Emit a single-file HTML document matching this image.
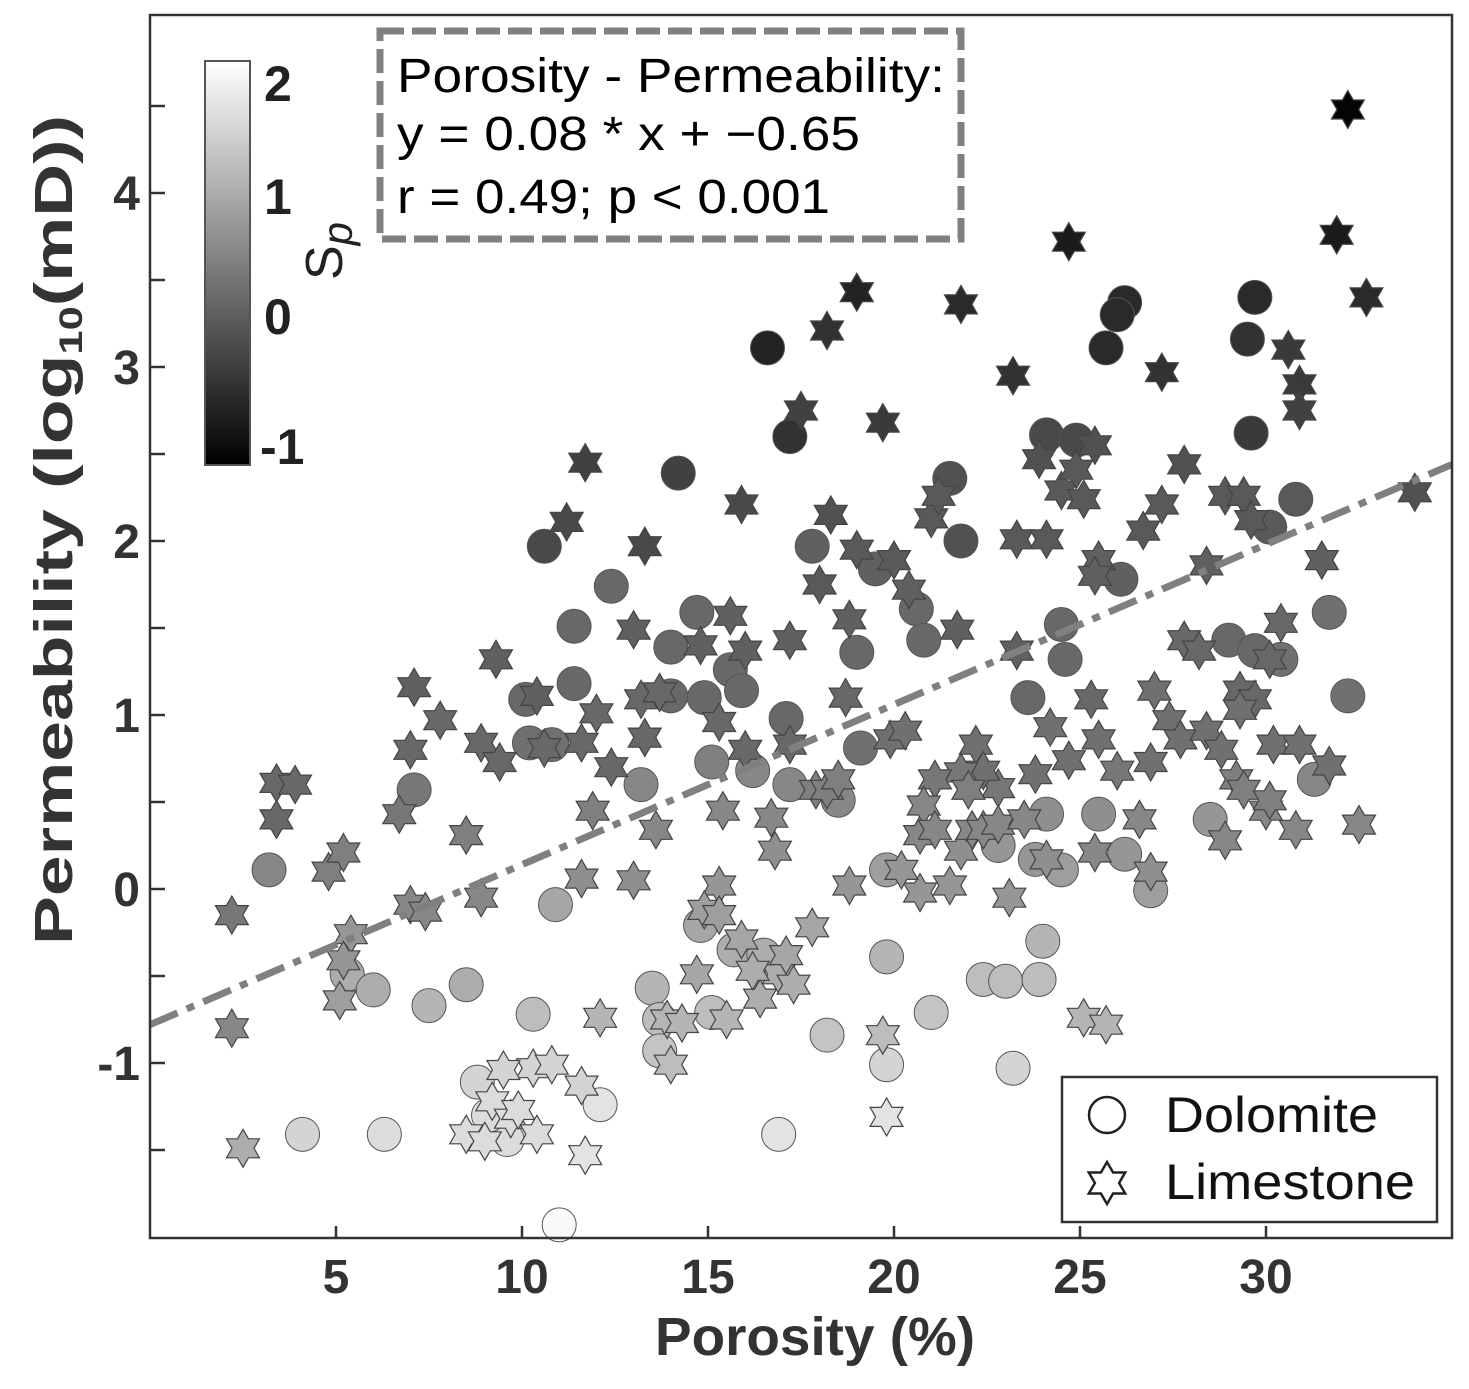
<!DOCTYPE html>
<html><head><meta charset="utf-8"><style>
body{margin:0;background:#fff;}
svg text{font-family:"Liberation Sans",Arial,sans-serif;}
</style></head><body>
<svg id="chart" width="1469" height="1384" viewBox="0 0 1469 1384" xmlns="http://www.w3.org/2000/svg">
<defs>
<linearGradient id="cbg" x1="0" y1="1" x2="0" y2="0">
<stop offset="0" stop-color="#000"/><stop offset="1" stop-color="#fff"/>
</linearGradient>
</defs>
<rect x="150" y="15" width="1302" height="1223" fill="#fff"/>
<g id="marks"></g>
<line id="fitline" stroke="#808080" stroke-width="7" stroke-dasharray="30,10,8,10" fill="none"/>
<rect x="150" y="15" width="1302" height="1223" fill="none" stroke="#333" stroke-width="2.5"/>
<g id="axes"></g>
<text x="815" y="1355" text-anchor="middle" font-size="54" font-weight="bold" fill="#333" textLength="320" lengthAdjust="spacingAndGlyphs">Porosity (%)</text>
<text transform="translate(72,530) rotate(-90)" text-anchor="middle" font-size="54" font-weight="bold" fill="#333" textLength="830" lengthAdjust="spacingAndGlyphs">Permeability (log<tspan font-size="32" dy="10">10</tspan><tspan dy="-10">(mD))</tspan></text>
<g>
<rect x="205" y="61" width="45" height="404" fill="url(#cbg)" stroke="#555" stroke-width="2"/>
<text x="264" y="101" font-size="50" font-weight="bold" fill="#222">2</text>
<text x="264" y="214" font-size="50" font-weight="bold" fill="#222">1</text>
<text x="264" y="334" font-size="50" font-weight="bold" fill="#222">0</text>
<text x="260" y="464" font-size="50" font-weight="bold" fill="#222">-1</text>
<text transform="translate(342,280) rotate(-90)" font-size="52" fill="#222">S<tspan font-style="italic" font-size="42" dy="10">p</tspan></text>
</g>
<g>
<rect x="380" y="31" width="581" height="208" fill="#fff" stroke="#808080" stroke-width="7" stroke-dasharray="24,8"/>
<text x="397" y="92" font-size="48" fill="#000" textLength="548" lengthAdjust="spacingAndGlyphs">Porosity - Permeability:</text>
<text x="397" y="150" font-size="48" fill="#000" textLength="463" lengthAdjust="spacingAndGlyphs">y = 0.08 * x + −0.65</text>
<text x="397" y="213" font-size="48" fill="#000" textLength="433" lengthAdjust="spacingAndGlyphs">r = 0.49; p &lt; 0.001</text>
</g>
<g>
<rect x="1062" y="1077" width="375" height="145" fill="#fff" stroke="#333" stroke-width="2.5"/>
<circle cx="1107" cy="1115" r="18" fill="#fff" stroke="#222" stroke-width="2.5"/>
<text x="1165" y="1132" font-size="50" fill="#111" textLength="213" lengthAdjust="spacingAndGlyphs">Dolomite</text>
<polygon id="legstar" fill="#fff" stroke="#222" stroke-width="2.5"/>
<text x="1165" y="1199" font-size="50" fill="#111" textLength="250" lengthAdjust="spacingAndGlyphs">Limestone</text>
</g>
</svg>
<script>
// Dolomite: porosity, log perm, Sp
const dolX=[16.6,26.2,26.0,25.7,29.7,29.5,29.6,17.2,14.2,10.6,24.1,24.9,21.5,21.8,30.8,30.1,
12.4,11.4,11.4,14.0,14.0,14.7,14.9,15.6,15.9,17.1,17.8,19.0,19.1,20.6,20.8,19.5,24.5,24.6,23.6,30.4,31.7,32.2,29.0,29.7,26.1,10.1,10.2,10.8,
3.2,7.1,13.2,15.1,16.2,17.2,18.5,19.8,22.8,23.8,24.1,24.5,25.5,26.2,26.9,28.5,31.3,10.9,
5.3,6.0,7.5,8.5,10.3,13.5,13.7,14.8,15.1,15.7,16.5,19.8,21.0,22.4,23.0,23.9,24.0,18.2,19.8,23.2,13.7,
4.1,6.3,8.8,9.6,9.1,12.1,16.9,11.0];
const dolY=[3.11,3.37,3.30,3.11,3.40,3.16,2.62,2.60,2.39,1.97,2.61,2.58,2.36,2.00,2.24,2.08,
1.74,1.51,1.18,1.39,1.11,1.59,1.10,1.26,1.14,0.98,1.97,1.36,0.81,1.61,1.43,1.84,1.52,1.32,1.10,1.32,1.59,1.11,1.43,1.37,1.78,1.09,0.84,0.83,
0.11,0.57,0.60,0.73,0.68,0.60,0.51,0.11,0.25,0.17,0.43,0.11,0.43,0.20,-0.01,0.40,0.63,-0.09,
-0.49,-0.58,-0.67,-0.55,-0.72,-0.57,-0.75,-0.21,-0.71,-0.35,-0.38,-0.39,-0.71,-0.52,-0.53,-0.52,-0.30,-0.84,-1.01,-1.03,-0.93,
-1.41,-1.41,-1.11,-1.44,-1.30,-1.24,-1.41,-1.93];
const dolSp=[-0.7,-0.6,-0.6,-0.6,-0.6,-0.5,-0.4,-0.5,-0.3,-0.2,-0.2,-0.2,-0.1,-0.1,0,0,
0.2,0.2,0.2,0.2,0.2,0.2,0.2,0.2,0.2,0.2,0.1,0.2,0.3,0.2,0.2,0.1,0.2,0.2,0.2,0.3,0.3,0.3,0.2,0.2,0.1,0.2,0.3,0.3,
0.6,0.4,0.6,0.5,0.6,0.6,0.6,0.9,0.8,0.8,0.7,0.9,0.7,0.8,0.9,0.8,0.6,1.0,
1.1,1.1,1.2,1.1,1.3,1.2,1.3,1.0,1.3,1.1,1.1,1.2,1.4,1.3,1.3,1.3,1.2,1.4,1.6,1.6,1.4,
1.6,1.7,1.6,1.7,1.7,1.8,1.8,2.1];
// Limestone
const limX=[32.2,24.7,31.9,32.7,19.0,21.8,18.2,23.2,27.2,30.6,30.9,30.9,17.5,19.7,11.7,11.2,15.9,13.3,34.0,
3.4,3.9,3.4,7.1,7.0,7.8,9.3,8.9,9.4,10.4,10.6,11.6,12.0,12.4,13.0,13.2,13.7,13.3,14.8,15.6,16.0,15.3,16.0,17.2,17.2,18.3,18.0,18.8,18.7,19.0,20.0,19.9,20.3,20.4,21.0,21.2,21.7,23.3,23.3,24.1,23.9,24.5,24.9,25.4,25.1,25.5,25.4,26.7,27.2,27.8,28.4,28.9,29.4,29.6,30.4,31.5,27.8,28.2,27.0,27.4,27.7,25.5,25.3,29.3,29.7,29.3,30.1,30.2,30.9,31.7,24.2,24.7,26.0,26.9,28.4,28.8,23.8,22.8,22.2,22.4,21.8,21.1,
2.2,4.8,5.2,6.7,8.5,7.0,7.4,8.9,11.9,11.6,13.0,13.6,15.4,16.7,16.8,17.9,18.2,18.5,20.7,20.8,21.1,21.8,22.1,22.0,22.4,22.8,23.5,24.1,23.1,25.4,26.9,28.9,30.0,30.8,32.5,29.2,29.4,30.1,26.6,21.5,20.7,20.2,18.8,15.3,14.9,2.2,5.4,5.2,5.1,
12.1,14.7,13.9,14.3,14.0,15.5,16.4,16.9,17.1,17.8,17.3,15.9,16.2,15.3,25.1,25.7,19.7,
2.5,8.5,9.0,9.2,9.7,9.9,10.3,10.8,10.4,11.6,11.7,9.5,19.8];
const limY=[4.48,3.72,3.76,3.40,3.43,3.36,3.21,2.95,2.97,3.10,2.90,2.75,2.75,2.68,2.45,2.11,2.21,1.97,2.28,
0.61,0.60,0.40,1.16,0.80,0.97,1.32,0.84,0.73,1.11,0.81,0.84,1.01,0.70,1.49,1.09,1.13,0.87,1.40,1.57,1.37,0.96,0.80,1.43,0.83,2.15,1.75,1.55,1.10,1.95,1.89,0.86,0.91,1.72,2.13,2.26,1.49,1.37,2.01,2.01,2.47,2.29,2.41,2.55,2.24,1.89,1.80,2.06,2.21,2.44,1.86,2.26,2.26,2.12,1.53,1.89,1.43,1.37,1.14,0.97,0.86,0.86,1.09,1.14,1.09,1.03,1.32,0.83,0.83,0.71,0.93,0.74,0.68,0.73,0.91,0.80,0.66,0.58,0.83,0.68,0.67,0.63,
-0.15,0.10,0.21,0.43,0.31,-0.09,-0.13,-0.05,0.45,0.06,0.05,0.34,0.45,0.41,0.22,0.57,0.57,0.63,0.31,0.48,0.34,0.22,0.34,0.57,0.34,0.37,0.40,0.17,-0.05,0.21,0.10,0.28,0.45,0.34,0.37,0.63,0.57,0.51,0.40,0.02,-0.02,0.11,0.02,0.02,-0.12,-0.80,-0.26,-0.41,-0.64,
-0.74,-0.49,-0.75,-0.77,-1.01,-0.75,-0.63,-0.49,-0.38,-0.22,-0.55,-0.29,-0.47,-0.15,-0.74,-0.78,-0.84,
-1.49,-1.41,-1.45,-1.22,-1.32,-1.27,-1.03,-1.01,-1.41,-1.13,-1.53,-1.04,-1.31];
const limSp=[-1.1,-0.8,-0.8,-0.6,-0.7,-0.6,-0.5,-0.5,-0.5,-0.4,-0.4,-0.3,-0.3,-0.4,-0.3,-0.2,-0.2,-0.2,-0.1,
0.2,0.2,0.2,0.1,0.2,0.2,0.1,0.2,0.2,0.1,0.2,0.2,0.2,0.2,0.1,0.2,0.2,0.2,0.1,0.1,0.1,0.2,0.2,0.1,0.2,-0.1,0.0,0.1,0.2,0.0,0.0,0.3,0.3,0.1,0.0,0.0,0.1,0.1,0.0,0.0,-0.1,0.0,0.0,-0.1,0.0,0.1,0.1,0.0,0.0,-0.1,0.1,0.0,0.0,0.0,0.2,0.1,0.2,0.2,0.3,0.3,0.3,0.3,0.2,0.2,0.2,0.3,0.2,0.3,0.3,0.3,0.3,0.3,0.4,0.3,0.3,0.3,0.3,0.4,0.3,0.3,0.4,0.4,
0.4,0.5,0.5,0.4,0.5,0.6,0.6,0.6,0.5,0.7,0.7,0.6,0.6,0.6,0.7,0.5,0.5,0.5,0.6,0.6,0.6,0.7,0.6,0.5,0.6,0.6,0.6,0.7,0.8,0.6,0.7,0.6,0.6,0.6,0.6,0.5,0.5,0.5,0.6,0.8,0.8,0.8,0.8,0.8,0.9,0.6,0.8,0.8,0.9,
1.2,1.0,1.2,1.2,1.3,1.2,1.1,1.1,1.0,1.0,1.1,1.0,1.1,0.9,1.2,1.2,1.3,
1.1,1.7,1.7,1.7,1.7,1.7,1.6,1.6,1.7,1.6,1.8,1.6,1.8];
const xTicks=[5,10,15,20,25,30];
const yTicks=[-1,0,1,2,3,4];
const yMinor=[-1.5,-0.5,0.5,1.5,2.5,3.5,4.5];
const fitX=[0,35];
const fitY=[-0.78,2.44];
const spMin=-1.15, spMax=2.16;

const xs=v=>150+v*37.2;
const ys=v=>889-v*174;
const shade=s=>{let t=(s-spMin)/(spMax-spMin);t=Math.max(0,Math.min(1,t));const g=Math.round(t*255);return `rgb(${g},${g},${g})`;};
const NS='http://www.w3.org/2000/svg';
function starPts(cx,cy,R){const r=R*0.577;let p=[];for(let i=0;i<12;i++){const a=-Math.PI/2+i*Math.PI/6;const rr=i%2?r:R;p.push((cx+rr*Math.cos(a)).toFixed(1)+','+(cy+rr*Math.sin(a)).toFixed(1));}return p.join(' ');}
const g=document.getElementById('marks');
for(let i=0;i<dolX.length;i++){
  const c=document.createElementNS(NS,'circle');
  c.setAttribute('cx',xs(dolX[i]));c.setAttribute('cy',ys(dolY[i]));c.setAttribute('r',17);
  c.setAttribute('fill',shade(dolSp[i]));c.setAttribute('stroke','#555');c.setAttribute('stroke-width','1');
  
  
  g.appendChild(c);
}
for(let i=0;i<limX.length;i++){
  const s=document.createElementNS(NS,'polygon');
  s.setAttribute('points',starPts(xs(limX[i]),ys(limY[i]),19));
  s.setAttribute('fill',shade(limSp[i]));s.setAttribute('stroke','#444');s.setAttribute('stroke-width','1.2');
  
  
  g.appendChild(s);
}
document.getElementById('legstar').setAttribute('points',starPts(1107,1183,21));
const fl=document.getElementById('fitline');
fl.setAttribute('x1',xs(fitX[0]));fl.setAttribute('y1',ys(fitY[0]));
fl.setAttribute('x2',xs(fitX[1]));fl.setAttribute('y2',ys(fitY[1]));
const ax=document.getElementById('axes');
xTicks.forEach(t=>{
  const l=document.createElementNS(NS,'line');
  l.setAttribute('x1',xs(t));l.setAttribute('x2',xs(t));l.setAttribute('y1',1238);l.setAttribute('y2',1226);
  l.setAttribute('stroke','#333');l.setAttribute('stroke-width','2.5');
  
  
  ax.appendChild(l);
  const tx=document.createElementNS(NS,'text');
  tx.setAttribute('x',xs(t));tx.setAttribute('y',1293);tx.setAttribute('text-anchor','middle');
  tx.setAttribute('font-size','48');tx.setAttribute('font-weight','bold');tx.setAttribute('fill','#333');
  tx.textContent=t;
  
  
  ax.appendChild(tx);
});
yTicks.concat(yMinor).forEach(t=>{
  const l=document.createElementNS(NS,'line');
  l.setAttribute('x1',150);l.setAttribute('x2',165);l.setAttribute('y1',ys(t));l.setAttribute('y2',ys(t));
  l.setAttribute('stroke','#333');l.setAttribute('stroke-width','2.5');
  
  
  ax.appendChild(l);
});
yTicks.forEach(t=>{
  const tx=document.createElementNS(NS,'text');
  tx.setAttribute('x',140);tx.setAttribute('y',ys(t)+17);tx.setAttribute('text-anchor','end');
  tx.setAttribute('font-size','48');tx.setAttribute('font-weight','bold');tx.setAttribute('fill','#333');
  tx.textContent=t;
  
  
  ax.appendChild(tx);
});
</script>
</body></html>
